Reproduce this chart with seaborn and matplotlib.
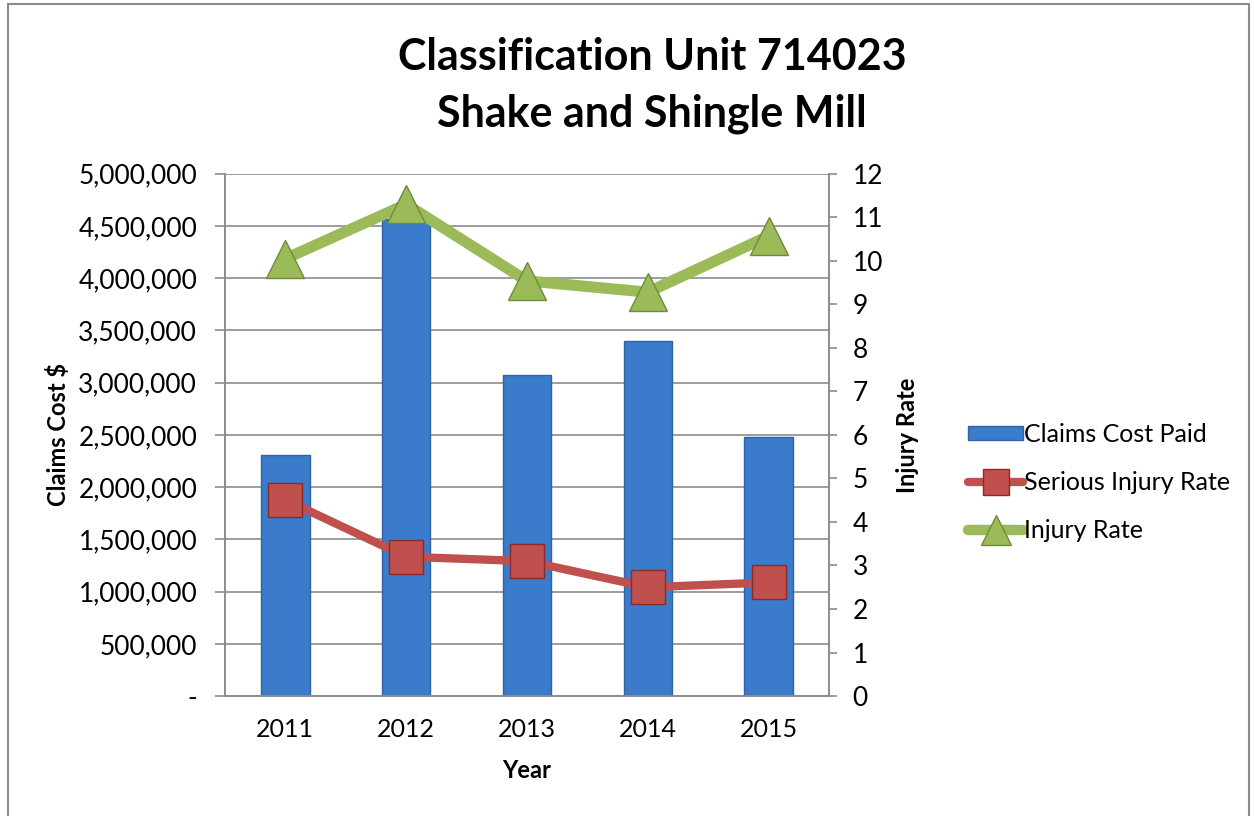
import numpy as np
import pandas as pd
import seaborn as sns
import matplotlib.pyplot as plt
from matplotlib.lines import Line2D
from matplotlib.patches import Patch, Rectangle
from matplotlib.ticker import FuncFormatter, MultipleLocator, FixedLocator

# --- data ---
years = ["2011", "2012", "2013", "2014", "2015"]
claims_cost = [2305000, 4570000, 3075000, 3400000, 2480000]
serious_injury_rate = [4.51, 3.20, 3.10, 2.50, 2.61]
injury_rate = [10.05, 11.30, 9.54, 9.28, 10.57]

BLUE = "#3A7BCB"
RED = "#C0504D"
GREEN = "#9BBB59"
GRID = "#8C8C8C"

sns.set_style("white")
plt.rcParams["font.family"] = ["Lato", "DejaVu Sans"]
plt.rcParams["text.color"] = "black"

df = pd.DataFrame({"Year": years, "Claims": claims_cost,
                   "Serious": serious_injury_rate, "Injury": injury_rate})

fig = plt.figure(figsize=(12.54, 8.16), dpi=100)
ax = fig.add_axes([0.1794, 0.147, 0.4817, 0.640])

sns.barplot(data=df, x="Year", y="Claims", color=BLUE, width=0.4,
            edgecolor="#2F63A6", linewidth=1, saturation=1, ax=ax)

ax.set_ylim(0, 5000000)
ax.set_xlim(-0.5, 4.5)
ax.yaxis.set_major_locator(MultipleLocator(500000))
ax.yaxis.set_major_formatter(FuncFormatter(lambda v, p: "-" if v == 0 else f"{int(v):,}"))
ax.yaxis.grid(True, color=GRID, linewidth=1.2)
ax.set_axisbelow(True)
ax.set_xlabel("")
ax.set_ylabel("")

ax2 = ax.twinx()
sns.pointplot(data=df, x="Year", y="Serious", color=RED, markers="s",
              linestyles="-", linewidth=6, markersize=25,
              markeredgecolor="#8B2B28", markeredgewidth=1, ax=ax2)
sns.pointplot(data=df, x="Year", y="Injury", color=GREEN, markers="^",
              linestyles="-", linewidth=8, markersize=28,
              markeredgecolor="#6E8B3D", markeredgewidth=1, ax=ax2)
ax2.set_ylim(0, 12)
ax2.set_xlim(-0.5, 4.5)
ax2.yaxis.set_major_locator(MultipleLocator(1))
ax2.set_ylabel("")
ax2.set_xlabel("")

for a in (ax, ax2):
    for s in a.spines.values():
        s.set_color(GRID)
        s.set_linewidth(1.2)
    a.spines["top"].set_visible(False)

ax.tick_params(axis="y", direction="out", length=7, color=GRID, width=1.2,
               labelsize=19, labelcolor="black", pad=13)
ax2.tick_params(axis="y", direction="out", length=6, color=GRID, width=1.2,
                labelsize=19, labelcolor="black", pad=11)
ax.tick_params(axis="x", labelsize=18, labelcolor="black", length=0, pad=16)
ax.xaxis.set_minor_locator(FixedLocator(np.arange(-0.5, 5, 1)))
ax.tick_params(axis="x", which="minor", direction="out", length=6, color=GRID, width=1.2)

fig.text(0.52, 0.895, "Classification Unit 714023\nShake and Shingle Mill",
         ha="center", va="center", fontsize=31, fontweight="bold", linespacing=1.5)
fig.text(0.046, 0.467, "Claims Cost $", rotation=90, ha="center", va="center",
         fontsize=17, fontweight="bold")
fig.text(0.724, 0.467, "Injury Rate", rotation=90, ha="center", va="center",
         fontsize=17, fontweight="bold")
fig.text(0.420, 0.056, "Year", ha="center", va="center",
         fontsize=17, fontweight="bold")

handles = [
    Patch(facecolor=BLUE, edgecolor="#2F63A6", label="Claims Cost Paid"),
    Line2D([], [], color=RED, linewidth=6, marker="s", markersize=19,
           markeredgecolor="#8B2B28", label="Serious Injury Rate"),
    Line2D([], [], color=GREEN, linewidth=7.5, marker="^", markersize=21,
           markeredgecolor="#6E8B3D", label="Injury Rate"),
]
fig.legend(handles=handles, loc="center left", bbox_to_anchor=(0.754, 0.409),
           frameon=False, fontsize=18, handlelength=2.2, handleheight=0.5,
           handletextpad=0.05, labelspacing=1.0, numpoints=1)

fig.patches.append(Rectangle((0.006, -0.01), 0.99, 1.005, transform=fig.transFigure,
                             fill=False, edgecolor=GRID, linewidth=1.5))

fig.savefig("out.png", dpi=100)
